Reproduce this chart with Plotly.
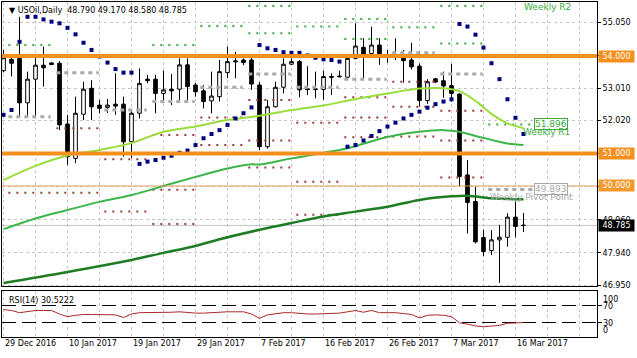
import plotly.graph_objects as go

# ---------------- data ----------------
bar_idx = list(range(66))
open_ = [53.55, 53.90, 53.93, 52.56, 53.29, 53.72, 53.79, 53.78, 51.91, 50.85,
         52.21, 53.01, 52.49, 52.42, 52.52, 52.52, 51.36, 52.24, 53.29, 53.29,
         52.85, 52.98, 52.98, 53.73, 53.11, 52.93, 52.62, 52.75, 53.49, 53.82,
         53.88, 53.88, 53.11, 51.21, 52.44, 53.04, 53.75, 53.83, 52.99, 52.97,
         52.97, 53.37, 53.36, 53.35, 53.93, 54.27, 54.08, 54.34, 53.98, 54.03,
         53.98, 53.88, 53.69, 52.63, 53.30, 53.24, 53.09, 52.83, 50.34, 49.52,
         48.41, 48.01, 48.34, 48.42, 49.04, 48.79]
high_ = [54.20, 54.03, 55.21, 53.52, 53.98, 54.29, 53.80, 53.85, 52.19, 52.75,
         53.21, 53.26, 52.65, 52.68, 53.47, 52.75, 52.30, 53.62, 53.42, 53.42,
         53.55, 53.45, 53.93, 53.93, 53.17, 53.11, 53.52, 53.88, 54.29, 54.13,
         53.93, 54.03, 53.20, 52.65, 53.21, 53.93, 53.93, 53.88, 53.69, 53.52,
         53.55, 53.47, 53.55, 53.97, 55.01, 54.55, 54.91, 54.55, 54.20, 54.55,
         54.19, 54.41, 53.77, 53.29, 53.32, 53.52, 53.76, 52.85, 50.80, 49.98,
         48.66, 48.64, 48.80, 49.16, 49.52, 49.17]
low_ = [53.50, 53.37, 52.15, 52.15, 52.15, 53.06, 53.72, 51.72, 50.65, 50.70,
        52.03, 52.03, 52.24, 52.25, 52.19, 50.90, 50.86, 52.08, 53.16, 52.24,
        52.55, 52.49, 52.65, 52.65, 52.75, 52.39, 52.24, 52.60, 53.32, 53.32,
        53.72, 52.96, 51.10, 51.15, 52.42, 52.85, 53.72, 52.73, 52.80, 52.70,
        52.65, 52.80, 53.35, 53.33, 53.90, 53.32, 54.05, 53.73, 53.80, 53.88,
        53.18, 53.59, 52.44, 52.53, 53.18, 52.72, 52.60, 50.00, 48.54, 48.23,
        47.84, 47.87, 47.02, 48.13, 48.42, 48.58]
close_ = [53.95, 53.78, 52.56, 53.29, 53.72, 53.64, 53.74, 51.88, 50.90, 52.24,
          52.98, 52.44, 52.39, 52.49, 52.46, 51.36, 52.24, 53.16, 53.24, 52.85,
          52.96, 52.93, 53.73, 53.06, 52.90, 52.60, 52.77, 53.52, 53.83, 53.85,
          53.80, 53.14, 51.21, 52.44, 53.04, 53.75, 53.83, 52.96, 52.97, 52.99,
          53.37, 53.35, 53.38, 53.93, 54.31, 54.06, 54.34, 53.98, 54.03, 53.98,
          53.86, 53.67, 52.63, 53.21, 53.20, 53.08, 52.85, 50.29, 49.49, 48.28,
          47.98, 48.34, 48.42, 49.04, 48.75, 48.785]

sar = [52.19, 52.34, 54.44, 55.21, 55.21, 55.13, 55.06, 55.01, 54.87, 54.67,
       54.41, 54.19, 53.99, 53.80, 53.60, 53.49, 53.49, 50.68, 50.75, 50.80,
       50.87, 50.93, 51.02, 51.09, 51.26, 51.47, 51.60, 51.72, 51.88, 52.08,
       52.24, 52.42, 54.34, 54.24, 54.19, 54.12, 54.10, 54.10, 54.02, 53.95,
       53.90, 53.88, 53.83, 51.21, 51.26, 51.40, 51.54, 51.69, 51.83, 51.95,
       52.08, 52.19, 52.29, 52.41, 52.52, 52.60, 52.67, 54.99, 54.91, 54.66,
       54.26, 53.78, 53.29, 52.67, 52.10, 51.60]

ma_fast_x = [0, 4, 8, 12, 16, 20, 24, 28, 32, 36, 40, 44, 48, 52, 55, 57, 59, 61, 63, 65]
ma_fast_y = [50.18, 50.62, 50.94, 51.11, 51.32, 51.67, 51.83, 52.03, 52.16, 52.34,
             52.48, 52.68, 52.85, 53.00, 53.01, 52.92, 52.62, 52.22, 51.93, 51.78]
ma_mid_x = [0, 4, 8, 12, 16, 20, 24, 28, 31, 32, 36, 40, 43, 44, 48, 52, 55, 57, 59, 61, 63, 65]
ma_mid_y = [48.67, 49.00, 49.26, 49.51, 49.72, 50.00, 50.28, 50.54, 50.67, 50.66, 50.85,
            51.02, 51.16, 51.23, 51.51, 51.67, 51.72, 51.67, 51.54, 51.42, 51.31, 51.26]
ma_slow_x = [0, 8, 16, 20, 24, 27, 32, 36, 40, 44, 48, 52, 56, 58, 61, 65]
ma_slow_y = [47.01, 47.35, 47.72, 47.94, 48.15, 48.36, 48.65, 48.86, 49.06, 49.21,
             49.36, 49.57, 49.68, 49.70, 49.62, 49.59]

rsi = [60, 58, 53, 56, 58, 58, 58, 50, 44, 47, 49, 49, 49, 49, 48, 42, 50, 53, 53, 53,
       53, 54, 55, 53, 52, 52, 53, 55, 55, 55, 55, 50, 40, 48, 51, 53, 53, 51, 50, 50,
       51, 52, 52, 55, 58, 54, 58, 53, 53, 53, 51, 49, 41, 47, 48, 47, 44, 30, 27, 23,
       21, 22, 24, 29, 30, 30.52]

# weekly pivot levels (week = range of bars)
wk_start = [0, 6, 12, 18, 24, 30, 36, 42, 48, 54, 60]
wk_end = [5, 11, 17, 23, 29, 35, 41, 47, 53, 59, 65]
wk_pivot = [52.13, 53.49, 52.34, 52.60, 53.04, 53.45, 53.04, 53.29, 54.10, 53.45, 49.893]
wk_r1 = [54.34, None, None, 54.34, None, 54.70, 54.91, None, 54.89, 54.39, 51.896]
wk_r2 = [None, None, None, None, 54.93, 55.54, None, 54.53, None, 55.54, None]
wk_r3 = [None, None, None, None, None, None, None, 55.14, None, None, None]
wk_s1 = [49.79, 51.78, 50.82, 51.57, 52.11, 52.65, 51.95, 52.73, 53.21, 52.32, None]
wk_s2 = [None, 49.79, 49.21, 49.88, 51.26, 51.40, 50.13, 52.11, 52.44, 51.40, None]
wk_s3 = [None, None, None, 48.83, None, 50.57, 49.11, 51.50, 51.52, 50.26, None]

h_levels_thick = [54.0, 51.0]
h_level_thin = 50.0
bid = 48.785

date_ticks = [0, 8, 16, 24, 32, 40, 48, 56, 64]
date_labels = ["29 Dec 2016", "10 Jan 2017", "19 Jan 2017", "29 Jan 2017", "7 Feb 2017",
               "16 Feb 2017", "26 Feb 2017", "7 Mar 2017", "16 Mar 2017"]
price_ticks = [55.05, 54.03, 53.01, 52.02, 51.00, 49.98, 48.96, 47.94, 46.95]
price_labels = ["55.050", "", "53.010", "52.020", "", "", "48.960", "47.940", "46.950"]

# ---------------- figure ----------------
FONT = "DejaVu Sans"
ORANGE = "#F5901E"
GREEN_LVL = "#3DAA3D"
RED_LVL = "#9C3B3B"
GRAY_LVL = "#A8A8A8"

fig = go.Figure()


def segs(levels_list, last_ext=0.0):
    xs, ys = [], []
    for levels in levels_list:
        for i, (s, e, v) in enumerate(zip(wk_start, wk_end, levels)):
            if v is None:
                continue
            end = e + 0.9 + (last_ext if i == len(wk_start) - 1 else 0)
            xs += [s + 0.6, end, None]
            ys += [v, v, None]
    return xs, ys


gx, gy = segs([wk_r1, wk_r2, wk_r3], last_ext=0.4)
rx, ry = segs([wk_s1, wk_s2, wk_s3])
px, py = segs([wk_pivot], last_ext=0.4)

fig.add_trace(go.Scatter(x=gx, y=gy, mode="lines", hoverinfo="skip",
                         line=dict(color=GREEN_LVL, width=2, dash="2px,6px")))
fig.add_trace(go.Scatter(x=rx, y=ry, mode="lines", hoverinfo="skip",
                         line=dict(color=RED_LVL, width=2, dash="2px,6px")))
fig.add_trace(go.Scatter(x=px, y=py, mode="lines", hoverinfo="skip",
                         line=dict(color=GRAY_LVL, width=3, dash="4px,4px")))

fig.add_trace(go.Scatter(x=ma_slow_x, y=ma_slow_y, mode="lines", hoverinfo="skip",
                         line=dict(color="#1E7D22", width=2.5, shape="spline")))
fig.add_trace(go.Scatter(x=ma_mid_x, y=ma_mid_y, mode="lines", hoverinfo="skip",
                         line=dict(color="#3DB54A", width=2, shape="spline")))
fig.add_trace(go.Scatter(x=ma_fast_x, y=ma_fast_y, mode="lines", hoverinfo="skip",
                         line=dict(color="#9BDD3A", width=2, shape="spline")))

fig.add_trace(go.Candlestick(
    x=bar_idx, open=open_, high=high_, low=low_, close=close_, hoverinfo="skip",
    increasing=dict(line=dict(color="black", width=1), fillcolor="white"),
    decreasing=dict(line=dict(color="black", width=1), fillcolor="black"),
    whiskerwidth=0))

fig.add_trace(go.Scatter(x=bar_idx, y=sar, mode="markers", hoverinfo="skip",
                         marker=dict(color="#00007F", size=4, symbol="square")))

fig.add_trace(go.Scatter(x=bar_idx, y=rsi, mode="lines", hoverinfo="skip",
                         xaxis="x2", yaxis="y2",
                         line=dict(color="#A82828", width=1)))

shapes = []
for lv in h_levels_thick:
    shapes.append(dict(type="line", xref="x domain", yref="y", x0=0, x1=1, y0=lv, y1=lv,
                       line=dict(color=ORANGE, width=4)))
shapes.append(dict(type="line", xref="x domain", yref="y", x0=0, x1=1,
                   y0=h_level_thin, y1=h_level_thin, line=dict(color="#E0A060", width=1)))
shapes.append(dict(type="line", xref="x domain", yref="y", x0=0, x1=1, y0=bid, y1=bid,
                   line=dict(color="#C4C4C4", width=1), layer="below"))

annotations = []
# title
annotations.append(dict(xref="paper", yref="paper", x=0.008, y=0.9746, xanchor="left",
                        yanchor="middle", showarrow=False,
                        text="▼ USOil,Daily  48.790 49.170 48.580 48.785",
                        font=dict(family=FONT, size=8, color="black")))
annotations.append(dict(xref="paper", yref="paper", x=0.008, y=0.109, xanchor="left",
                        yanchor="middle", showarrow=False, text="RSI(14) 30.5222",
                        font=dict(family=FONT, size=8, color="black")))
# date labels
for t, lab in zip(date_ticks, date_labels):
    annotations.append(dict(xref="x", yref="paper", x=t - 0.1, y=-0.0194, xanchor="left",
                            yanchor="middle", showarrow=False, text=lab,
                            font=dict(family=FONT, size=8, color="black")))
# RSI scale labels
for txt, yp in [("100", 0.1134), ("70", 0.0925), ("30", 0.0409), ("0", 0.0194)]:
    annotations.append(dict(xref="paper", yref="paper", x=1.0067, y=yp, xanchor="left",
                            yanchor="middle", showarrow=False, text=txt,
                            font=dict(family=FONT, size=8, color="black")))
# price boxes on the axis
for lv, bg in [(54.0, ORANGE), (51.0, ORANGE), (50.0, "#F29A2E")]:
    annotations.append(dict(xref="paper", yref="y", x=1.0017, y=lv, xanchor="left",
                            yanchor="middle", showarrow=False, text=f"{lv:.3f}",
                            width=35, height=11, bgcolor=bg, borderpad=0,
                            font=dict(family=FONT, size=8, color="white")))
annotations.append(dict(xref="paper", yref="y", x=1.0017, y=bid, xanchor="left",
                        yanchor="middle", showarrow=False, text=f"{bid:.3f}",
                        width=35, height=11, bgcolor="black", borderpad=0,
                        font=dict(family=FONT, size=8, color="white")))
# weekly labels
annotations.append(dict(xref="x", yref="paper", x=64.8, y=1.006, xanchor="left",
                        yanchor="top", showarrow=False, text="Weekly R2",
                        font=dict(family=FONT, size=9, color=GREEN_LVL)))
annotations.append(dict(xref="x", yref="y", x=66.3, y=wk_r1[-1], xanchor="left",
                        yanchor="middle", showarrow=False, text=f"{wk_r1[-1]:.3f}",
                        bgcolor="white", bordercolor=GREEN_LVL, borderwidth=1, borderpad=0,
                        font=dict(family=FONT, size=9, color=GREEN_LVL)))
annotations.append(dict(xref="x", yref="y", x=64.7, y=wk_r1[-1], xanchor="left",
                        yanchor="middle", yshift=-8, showarrow=False, text="Weekly R1",
                        font=dict(family=FONT, size=9, color=GREEN_LVL)))
annotations.append(dict(xref="x", yref="y", x=66.3, y=wk_pivot[-1], xanchor="left",
                        yanchor="middle", showarrow=False, text=f"{wk_pivot[-1]:.3f}",
                        bgcolor="white", bordercolor=GRAY_LVL, borderwidth=1, borderpad=0,
                        font=dict(family=FONT, size=9, color=GRAY_LVL)))
annotations.append(dict(xref="x", yref="y", x=60.6, y=wk_pivot[-1], xanchor="left",
                        yanchor="middle", yshift=-8, showarrow=False, text="Weekly Pivot Point",
                        font=dict(family=FONT, size=9, color=GRAY_LVL)))

grid_ticks = list(range(0, 76, 4))
GRID = "#C6C6C6"

fig.update_layout(
    width=637, height=358,
    margin=dict(l=2, r=40, t=2, b=21),
    paper_bgcolor="white", plot_bgcolor="white",
    showlegend=False,
    boxgap=0.35,
    font=dict(family=FONT, size=8, color="black"),
    shapes=shapes,
    annotations=annotations,
    xaxis=dict(domain=[0, 1], anchor="y", range=[-0.19, 74.19], tickvals=grid_ticks,
               showticklabels=False, ticks="", showgrid=True, gridcolor=GRID,
               griddash="3px,3px", gridwidth=1, zeroline=False, showline=True,
               linecolor="black", linewidth=1, mirror=True,
               rangeslider=dict(visible=False)),
    yaxis=dict(domain=[0.1522, 1], anchor="x", side="right", range=[46.919, 55.666],
               tickvals=price_ticks, ticktext=price_labels, ticks="outside", ticklen=3,
               tickcolor="black", showgrid=True, gridcolor=GRID, griddash="3px,3px",
               zeroline=False, showline=True, linecolor="black", linewidth=1, mirror=True,
               tickfont=dict(family=FONT, size=8, color="black")),
    xaxis2=dict(domain=[0, 1], anchor="y2", matches="x", range=[-0.19, 74.19],
                tickvals=grid_ticks, showticklabels=False, ticks="", showgrid=True,
                gridcolor=GRID, griddash="3px,3px", zeroline=False, showline=True,
                linecolor="black", linewidth=1, mirror=True),
    yaxis2=dict(domain=[0, 0.1373], anchor="x2", side="right", range=[-2.3, 102.3],
                tickvals=[30, 70], showticklabels=False, ticks="outside", ticklen=4,
                tickcolor="black", showgrid=True, gridcolor="black", griddash="14px,6px",
                zeroline=False, showline=True, linecolor="black", linewidth=1, mirror=True),
)

fig.write_html("out.html", config={"displayModeBar": False},
               post_script="document.body.style.margin='0px';document.body.style.overflow='hidden';")
